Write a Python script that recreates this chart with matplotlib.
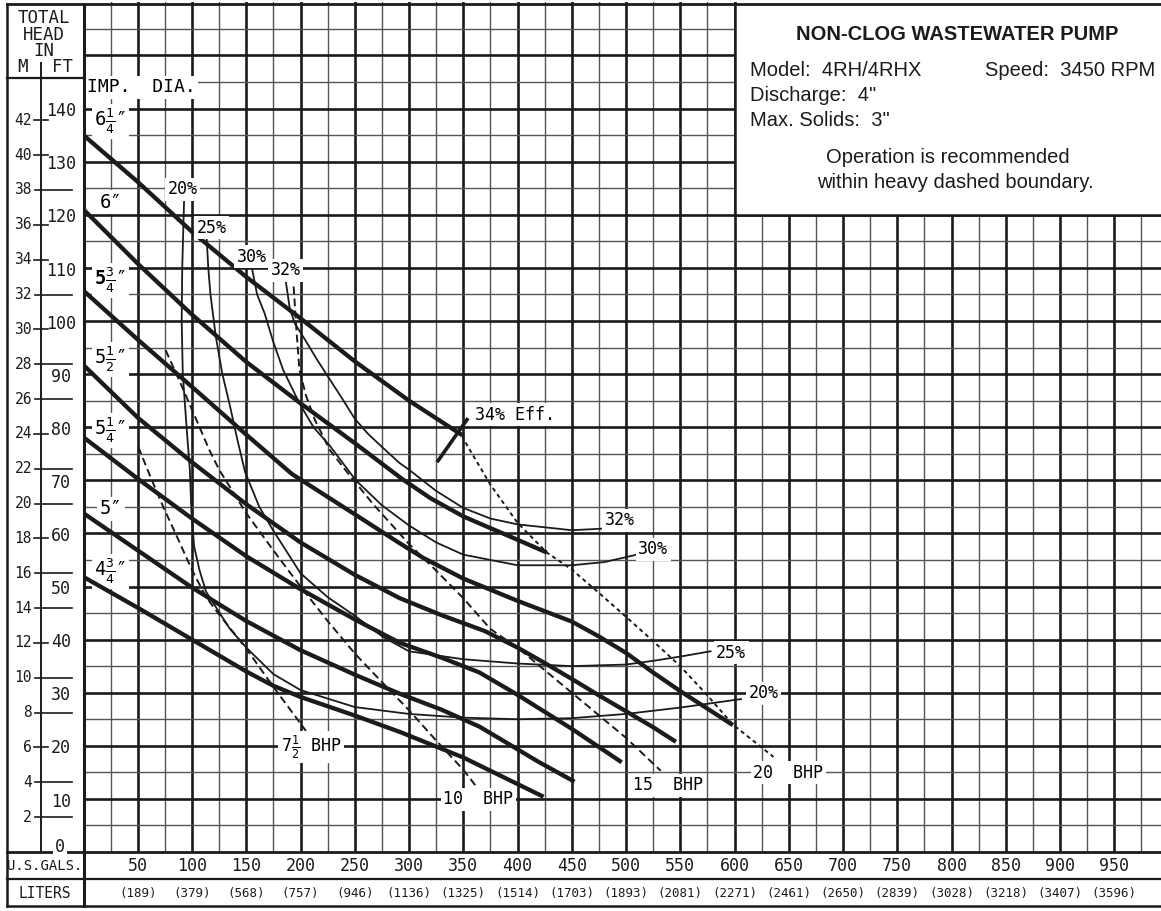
"""Pump performance chart: 4RH/4RHX non-clog wastewater pump, 3450 RPM."""

import matplotlib

matplotlib.use("Agg")
import matplotlib.pyplot as plt
import numpy as np
from matplotlib.lines import Line2D
from matplotlib.patches import Rectangle
from matplotlib.transforms import blended_transform_factory

CAD_FONT = ["DejaVu Sans Mono", "DejaVu Sans"]
INFO_FONT = ["Liberation Sans", "DejaVu Sans"]
plt.rcParams["font.family"] = CAD_FONT
plt.rcParams["mathtext.fontset"] = "custom"
plt.rcParams["mathtext.rm"] = "DejaVu Sans Mono"
plt.rcParams["mathtext.it"] = "DejaVu Sans Mono"
plt.rcParams["mathtext.bf"] = "DejaVu Sans Mono:bold"

W_PX, H_PX = 1161, 911
INK = "#1b1b1b"
FT_PER_M = 3.28084

# --- Head curves per impeller diameter (flow in US gpm, head in ft) ---
Q_D625 = [0, 50, 100, 150, 200, 250, 300, 349]
H_D625 = [135, 126.2, 116.8, 108.3, 100.5, 92.4, 85, 78.5]

Q_D600 = [0, 50, 100, 150, 200, 250, 294, 320, 350, 400, 427]
H_D600 = [121, 110.8, 101.2, 92.3, 84.5, 77, 70.2, 66.6, 63.2, 58.8, 56.4]

Q_D575 = [0, 50, 100, 150, 192, 250, 291, 313, 350, 400, 450, 475, 500,
          525, 550, 575, 598.5]
H_D575 = [105.7, 96.5, 87.6, 78.6, 71.2, 63.6, 58.2, 55.4, 51.5, 47.3, 43.4,
          40.6, 37.5, 33.8, 30.3, 27, 23.9]

Q_D550 = [0, 50, 100, 150, 200, 250, 291.5, 330, 370, 400, 425, 450, 475,
          500, 525, 546]
H_D550 = [91.7, 81.8, 73.4, 65.5, 58.3, 52.2, 47.8, 44.6, 41.6, 38.5, 35.6,
          32.6, 29.5, 26.5, 23.5, 20.75]

Q_D525 = [0, 50, 100, 150, 200, 250, 291.5, 330, 365, 400, 450, 496]
H_D525 = [78.1, 70.3, 62.8, 55.7, 49.5, 43.8, 39.4, 36.6, 33.8, 29.6, 23.2,
          16.9]

Q_D500 = [0, 50, 100, 150, 200, 250, 291.5, 330, 365, 384, 420, 452.5]
H_D500 = [63.8, 56.8, 49.8, 43.5, 38, 33.4, 29.8, 26.8, 23.6, 21.3, 16.9,
          13.25]

Q_D475 = [0, 50, 100, 150, 175, 200, 250, 291.7, 350, 384, 424]
H_D475 = [51.8, 46, 40, 34, 31.3, 29.2, 25.7, 22.6, 17.8, 14.4, 10.4]

# --- Iso-efficiency curves ---
Q_E20 = [92.7, 91, 90.5, 91.5, 95, 98, 99.5, 102, 107, 113, 123, 135, 150,
         175, 200, 250, 300, 350, 400, 450, 500, 550, 606]
H_E20 = [122.7, 110, 100, 90, 80, 72, 64, 57.5, 53, 49, 45.8, 42, 38.5, 33.5,
         30.5, 27.3, 26, 25.3, 25, 25.2, 26, 27.2, 28.8]

Q_E25 = [113.5, 115, 117, 122, 128, 135, 142, 149, 162, 175, 200, 225, 250,
         276, 300, 350, 400, 450, 500, 525, 550, 578]
H_E25 = [115.6, 110, 105, 97, 90, 84, 77.5, 71.5, 65, 60.5, 52.5, 48, 44.5,
         40.5, 37.8, 36.3, 35.5, 35, 35.3, 36, 36.8, 37.8]

Q_E30 = [155, 160, 167, 175, 184, 199, 212, 227, 251, 275, 300, 325, 350,
         400, 450, 480, 510]
H_E30 = [110.2, 105, 101.4, 96, 90.8, 84.5, 80, 76.5, 70, 65.3, 61.5, 58.3,
         56, 54, 54, 54.6, 56]

Q_E32 = [186.5, 190, 194.6, 205, 215, 227, 239, 250, 262, 275, 291, 300,
         325, 350, 375, 400, 450, 479]
H_E32 = [107.4, 102.5, 99.6, 96.2, 92.8, 89, 85.2, 81.6, 78.8, 76.3, 73.3,
         72, 68, 64.8, 62.8, 61.7, 60.6, 60.9]

# 34 % best-efficiency marker
Q_E34 = [325.8, 354.4]
H_E34 = [73.4, 81.7]

# --- Brake horsepower limit lines ---
Q_B75 = [50.5, 62, 73.5, 87, 100, 113, 124, 150, 175, 200, 205]
H_B75 = [76.3, 70.5, 65, 59, 53.1, 48, 45, 38.3, 31.1, 24.2, 22.8]

Q_B10 = [75.7, 90, 104, 116, 125, 150, 175, 200, 225, 250, 275, 300, 325,
         350, 361]
H_B10 = [94.5, 88, 81.4, 75.7, 72, 63.8, 56.8, 50, 43.5, 37.4, 32, 26.7, 21,
         15.5, 12.6]

Q_B15 = [193.7, 196, 199, 205, 213, 227, 245, 267, 300, 325, 350, 375, 400,
         450, 500, 532]
H_B15 = [106.5, 99, 90.8, 86, 81.5, 75.7, 71, 65.5, 58, 53, 47.8, 42, 38.5,
         30, 21.5, 15.3]

Q_B20 = [349, 353.5, 375, 400, 427, 450, 475, 500, 525, 550, 575, 598.5, 636]
H_B20 = [78.4, 76.6, 69.2, 62, 56.4, 53.2, 48.8, 44.3, 39.7, 35, 29.5, 24,
         17.9]

# --- Axis labels ---
GAL_TICKS = [50, 100, 150, 200, 250, 300, 350, 400, 450, 500, 550, 600, 650,
             700, 750, 800, 850, 900, 950]
LITER_LABELS = ["189", "379", "568", "757", "946", "1136", "1325", "1514",
                "1703", "1893", "2081", "2271", "2461", "2650", "2839",
                "3028", "3218", "3407", "3596"]
FT_TICKS = [10, 20, 30, 40, 50, 60, 70, 80, 90, 100, 110, 120, 130, 140]
M_TICKS = [2, 4, 6, 8, 10, 12, 14, 16, 18, 20, 22, 24, 26, 28, 30, 32, 34,
           36, 38, 40, 42]
M_SHORT = [42, 40, 36, 34, 30, 24, 18, 12, 6]

DIA_LABELS = [r"$6\frac{1}{4}$″", "6″", r"$\mathbf{5}\frac{3}{4}$″",
              r"$5\frac{1}{2}$″", r"$5\frac{1}{4}$″", "5″", r"$4\frac{3}{4}$″"]

WHITE_BOX = dict(boxstyle="square,pad=0.15", fc="white", ec="none")


def px_x(px):
    return px / W_PX


def px_y(py):
    return 1.0 - py / H_PX


def fig_line(fig, xs, ys, lw=1.8):
    """Draw a line on the figure given pixel coordinates (y from top)."""
    fig.add_artist(
        Line2D([px_x(x) for x in xs], [px_y(y) for y in ys], color=INK,
               lw=lw, solid_capstyle="projecting", zorder=2)
    )


def draw_grid(ax):
    for q in np.arange(25, 1000, 25):
        thick = q % 50 == 0
        ax.axvline(q, color=INK if thick else "#555555",
                   lw=1.9 if thick else 1.0, zorder=1)
    for h in np.arange(5, 160, 5):
        thick = h % 10 == 0
        ax.axhline(h, color=INK if thick else "#555555",
                   lw=1.9 if thick else 1.0, zorder=1)


def draw_curves(ax):
    for q, h in [(Q_D625, H_D625), (Q_D600, H_D600), (Q_D575, H_D575),
                 (Q_D550, H_D550), (Q_D525, H_D525), (Q_D500, H_D500),
                 (Q_D475, H_D475)]:
        ax.plot(q, h, color=INK, lw=3.1, solid_capstyle="butt",
                solid_joinstyle="round", zorder=4)
    for q, h in [(Q_E20, H_E20), (Q_E25, H_E25), (Q_E30, H_E30),
                 (Q_E32, H_E32)]:
        ax.plot(q, h, color=INK, lw=1.3, solid_joinstyle="round", zorder=3)
    ax.plot(Q_E34, H_E34, color=INK, lw=2.6, solid_capstyle="butt", zorder=4)
    for q, h in [(Q_B75, H_B75), (Q_B10, H_B10), (Q_B15, H_B15)]:
        ax.plot(q, h, color=INK, lw=1.4, dashes=(4, 2.2), zorder=3)
    ax.plot(Q_B20, H_B20, color=INK, lw=1.4, dashes=(2.1, 1.8), zorder=3)


def draw_labels(ax):
    ax.text(3, 144, "IMP.  DIA.", fontsize=13, ha="left", va="center",
            bbox=WHITE_BOX, zorder=6)
    # diameter labels sit under the pump curves so the curve ends stay visible
    dia_pos = [(10, 137.6), (15, 122.4), (10, 107.6), (10, 92.8),
               (10, 79.4), (15, 64.6), (10, 52.9)]
    for text, (q, h) in zip(DIA_LABELS, dia_pos):
        ax.text(q, h, text, fontsize=13.5, ha="left", va="center",
                bbox=WHITE_BOX, zorder=3.5)

    for text, q, h in [("20%", 91.5, 124.8), ("25%", 118, 117.6),
                       ("30%", 155, 112.1), ("32%", 186.5, 109.6)]:
        ax.text(q, h, text, fontsize=12, ha="center", va="center",
                bbox=WHITE_BOX, zorder=6)
    for text, q, h in [("34% Eff.", 360.8, 82.3), ("32%", 480.6, 62.5),
                       ("30%", 511.3, 57), ("25%", 583, 37.5),
                       ("20%", 612.7, 29.9),
                       (r"$7\frac{1}{2}$ BHP", 181.7, 19.8),
                       ("10  BHP", 331.6, 9.9), ("15  BHP", 506.7, 12.6),
                       ("20  BHP", 617.3, 14.9)]:
        ax.text(q, h, text, fontsize=12, ha="left", va="center",
                bbox=WHITE_BOX, zorder=6)


def draw_info_box(ax, fig):
    ax.add_patch(Rectangle((600, 120), 450, 45, fc="white", ec=INK, lw=1.8,
                           zorder=5))
    fig.text(px_x(957), px_y(40.5), "NON-CLOG WASTEWATER PUMP",
             family=INFO_FONT, fontsize=14.5, fontweight="bold",
             ha="center", va="baseline", color=INK)
    fig.text(px_x(750), px_y(76), "Model:  4RH/4RHX", family=INFO_FONT,
             fontsize=14.5, ha="left", va="baseline", color=INK)
    fig.text(px_x(1155), px_y(76), "Speed:  3450 RPM", family=INFO_FONT,
             fontsize=14.5, ha="right", va="baseline", color=INK)
    fig.text(px_x(750), px_y(101), 'Discharge:  4"', family=INFO_FONT,
             fontsize=14.5, ha="left", va="baseline", color=INK)
    fig.text(px_x(750), px_y(126), 'Max. Solids:  3"', family=INFO_FONT,
             fontsize=14.5, ha="left", va="baseline", color=INK)
    fig.text(px_x(948), px_y(163), "Operation is recommended",
             family=INFO_FONT, fontsize=14.5, ha="center", va="baseline",
             color=INK)
    fig.text(px_x(955), px_y(188), "within heavy dashed boundary.",
             family=INFO_FONT, fontsize=14.5, ha="center", va="baseline",
             color=INK)


def draw_frame(ax, fig):
    left_tr = blended_transform_factory(fig.transFigure, ax.transData)
    bottom_tr = blended_transform_factory(ax.transData, fig.transFigure)

    # outer rules
    fig_line(fig, [7, W_PX], [4, 4], lw=2.0)
    fig_line(fig, [7, 7], [4, 906], lw=1.8)
    fig_line(fig, [83.5, 83.5], [4, 906], lw=2.2)
    fig_line(fig, [7, 83.5], [78, 78], lw=1.6)
    fig_line(fig, [41, 41], [63, 852], lw=1.4)
    fig_line(fig, [7, W_PX], [852, 852], lw=2.0)
    fig_line(fig, [7, W_PX], [879, 879], lw=1.6)
    fig_line(fig, [7, W_PX], [906, 906], lw=1.8)

    # header of the head axis
    for text, x, y in [("TOTAL", 44, 18), ("HEAD", 44, 35), ("IN", 44, 51),
                       ("M", 23, 67), ("FT", 62, 67)]:
        fig.text(px_x(x), px_y(y), text, fontsize=12.5, ha="center",
                 va="center", color=INK)

    # metre scale
    for m in M_TICKS:
        h = m * FT_PER_M
        x0, x1 = (34, 48) if m in M_SHORT else (35, 72)
        fig.add_artist(Line2D([px_x(x0), px_x(x1)], [h, h], transform=left_tr,
                              color=INK, lw=1.2, zorder=2))
        fig.text(px_x(32), h, str(m), transform=left_tr, fontsize=10.5,
                 ha="right", va="center", color=INK)

    # feet scale
    for f in FT_TICKS:
        fig.text(px_x(61), f - 0.5, str(f), transform=left_tr, fontsize=12,
                 ha="center", va="center", color=INK)
    fig.text(px_x(60), 0.9, "0", transform=left_tr, fontsize=12,
             ha="center", va="center", color=INK, zorder=4,
             bbox=dict(boxstyle="square,pad=0.1", fc="white", ec="none"))

    # flow scales
    fig.text(px_x(45), px_y(866), "U.S.GALS.", fontsize=10, ha="center",
             va="center", color=INK)
    fig.text(px_x(45), px_y(893), "LITERS", fontsize=10.5, ha="center",
             va="center", color=INK)
    for q, lit in zip(GAL_TICKS, LITER_LABELS):
        fig.text(q, px_y(866), str(q), transform=bottom_tr, fontsize=12,
                 ha="center", va="center", color=INK)
        fig.text(q, px_y(893), f"({lit})", transform=bottom_tr, fontsize=9,
                 ha="center", va="center", color=INK)


def main():
    fig = plt.figure(figsize=(W_PX / 100, H_PX / 100), dpi=100)
    ax = fig.add_axes([px_x(83.5), px_y(852), 1 - px_x(83.5),
                       (852 - 2.4) / H_PX])
    ax.set_xlim(0, (W_PX - 83.5) / 1.085)
    ax.set_ylim(0, 160)
    ax.set_xticks([])
    ax.set_yticks([])
    for spine in ax.spines.values():
        spine.set_visible(False)

    draw_grid(ax)
    draw_curves(ax)
    draw_labels(ax)
    draw_info_box(ax, fig)
    draw_frame(ax, fig)

    fig.savefig("out.png", dpi=100, facecolor="white")


if __name__ == "__main__":
    main()
